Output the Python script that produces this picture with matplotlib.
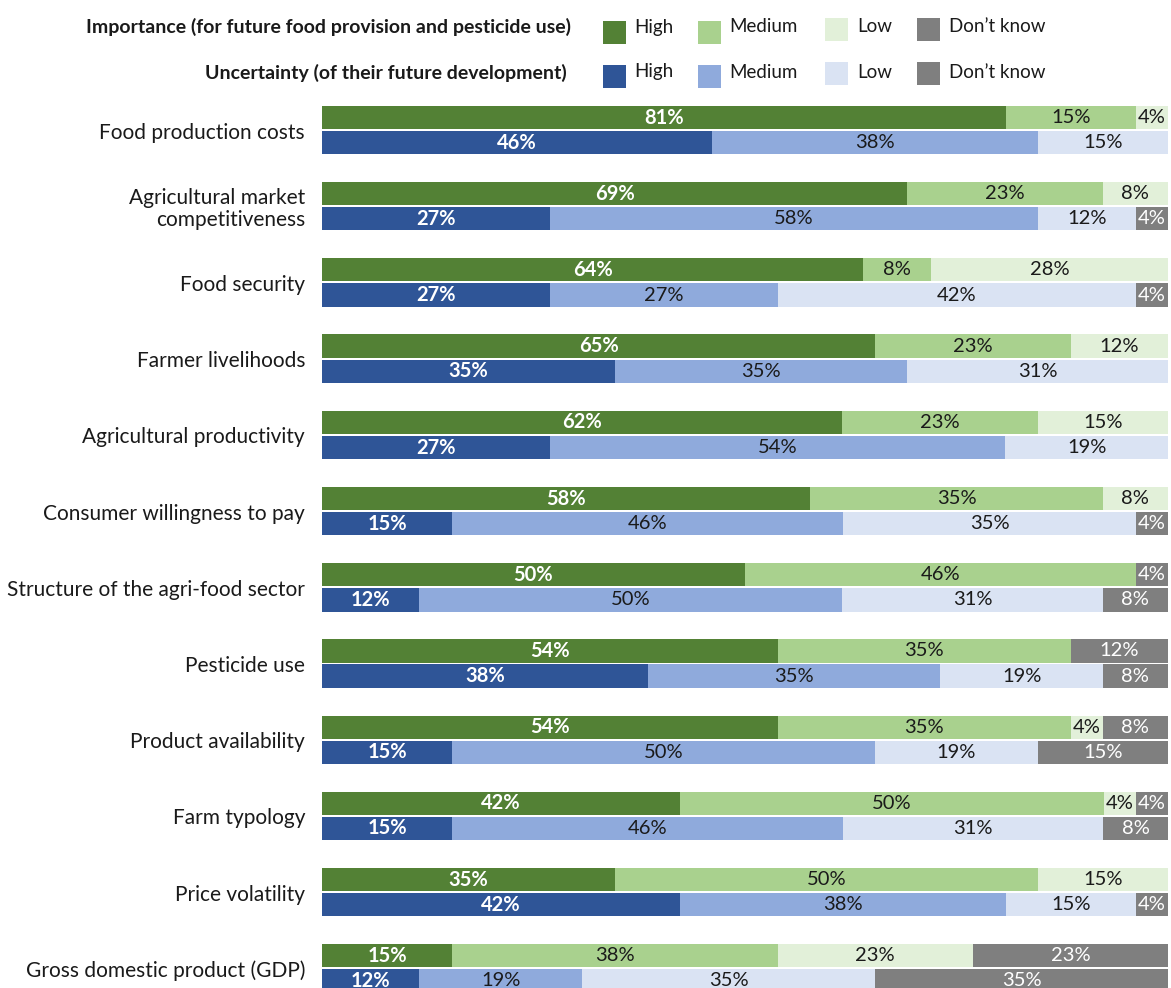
import matplotlib
matplotlib.use("Agg")
import matplotlib.pyplot as plt
from matplotlib.patches import Rectangle
import numpy as np

plt.rcParams['font.family'] = ['Lato', 'DejaVu Sans']

categories = [
    "Food production costs",
    "Agricultural market\ncompetitiveness",
    "Food security",
    "Farmer livelihoods",
    "Agricultural productivity",
    "Consumer willingness to pay",
    "Structure of the agri-food sector",
    "Pesticide use",
    "Product availability",
    "Farm typology",
    "Price volatility",
    "Gross domestic product (GDP)",
]
levels = ["High", "Medium", "Low", "Don\u2019t know"]

# Importance: High, Medium, Low, Don't know (% of respondents)
importance = [
    [80.8, 15.4, 3.8, 0],
    [69.2, 23.1, 7.7, 0],
    [64.0, 8.0, 28.0, 0],
    [65.4, 23.1, 11.5, 0],
    [61.5, 23.1, 15.4, 0],
    [57.7, 34.6, 7.7, 0],
    [50.0, 46.2, 0, 3.8],
    [53.8, 34.6, 0, 11.5],
    [53.8, 34.6, 3.8, 7.7],
    [42.3, 50.0, 3.8, 3.8],
    [34.6, 50.0, 15.4, 0],
    [15.4, 38.5, 23.1, 23.1],
]
# Uncertainty: High, Medium, Low, Don't know (% of respondents)
uncertainty = [
    [46.2, 38.5, 15.4, 0],
    [26.9, 57.7, 11.5, 3.8],
    [26.9, 26.9, 42.3, 3.8],
    [34.6, 34.6, 30.8, 0],
    [26.9, 53.8, 19.2, 0],
    [15.4, 46.2, 34.6, 3.8],
    [11.5, 50.0, 30.8, 7.7],
    [38.5, 34.6, 19.2, 7.7],
    [15.4, 50.0, 19.2, 15.4],
    [15.4, 46.2, 30.8, 7.7],
    [42.3, 38.5, 15.4, 3.8],
    [11.5, 19.2, 34.6, 34.6],
]

green = ["#538135", "#A9D18E", "#E2F0D9", "#7F7F7F"]
blue = ["#2F5597", "#8FAADC", "#DAE3F3", "#7F7F7F"]
txt_colors = ["white", "#1a1a1a", "#1a1a1a", "white"]
txt_weights = ["bold", "normal", "normal", "normal"]

W, H = 1171, 988
fig = plt.figure(figsize=(W / 100, H / 100), dpi=100)

def fx(px):
    return px / W

def fy(py):
    return 1 - py / H

ax = fig.add_axes([fx(322), 0, fx(1168) - fx(322), 1])
ax.set_xlim(0, 100)
pitch = 76.2
center0 = 130.1
ax.set_ylim((H - center0) / pitch, -center0 / pitch)
ax.axis('off')

bar_h = 23.2 / pitch
off = 12.6 / pitch

def draw_row(vals, y, colors):
    vals = np.array(vals, dtype=float)
    widths = vals / vals.sum() * 100
    left = 0.0
    for k, (v, w) in enumerate(zip(vals, widths)):
        if v > 0:
            ax.barh(y, w, left=left, height=bar_h, color=colors[k], edgecolor='none')
            ax.text(left + w / 2, y, f"{v:.0f}%", ha='center', va='center',
                    color=txt_colors[k], fontweight=txt_weights[k], fontsize=14.5)
        left += w

for i, cat in enumerate(categories):
    draw_row(importance[i], i - off, green)
    draw_row(uncertainty[i], i + off, blue)
    ax.text(-2.0, i + 2.5 / pitch, cat, ha='right', va='center', fontsize=15,
            color='#1a1a1a', linespacing=1.15)

fig.text(fx(571), fy(27), "Importance (for future food provision and pesticide use)",
         ha='right', va='center', fontsize=14, fontweight='bold', color='#1a1a1a')
fig.text(fx(567), fy(73), "Uncertainty (of their future development)",
         ha='right', va='center', fontsize=14, fontweight='bold', color='#1a1a1a')

patch_x = [603, 698, 825, 917]
patch_dy = [0, 0, -3, -3]
text_x = [634, 729, 857, 949]
for cols, yc, ty in [(green, 32.5, 27), (blue, 77, 72)]:
    for k in range(4):
        y0 = yc + patch_dy[k]
        fig.patches.append(Rectangle((fx(patch_x[k]), fy(y0 + 11.5)), fx(23), 23 / H,
                                     transform=fig.transFigure, facecolor=cols[k],
                                     edgecolor='none'))
        fig.text(fx(text_x[k]), fy(ty), levels[k], ha='left', va='center',
                 fontsize=13.5, color='#1a1a1a')

fig.savefig("out.png", dpi=100)
